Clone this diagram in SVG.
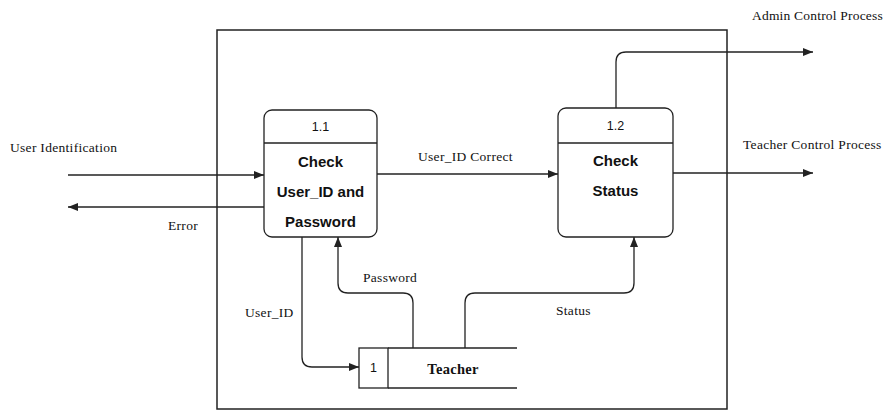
<svg xmlns="http://www.w3.org/2000/svg" width="890" height="411" viewBox="0 0 890 411">
<defs>
<marker id="ah" markerWidth="10" markerHeight="8" refX="10" refY="4" orient="auto" markerUnits="userSpaceOnUse">
<path d="M0,0 L10,4 L0,8 Z" fill="#222"/>
</marker>
<style>
.ln{fill:none;stroke:#222;stroke-width:1.3}
.box{fill:#fff;stroke:#222;stroke-width:1.3}
.lbl{font-family:"Liberation Serif",serif;font-size:13.5px;letter-spacing:0.3px;fill:#111}
.num{font-family:"Liberation Sans",Arial,sans-serif;font-size:12.5px;fill:#111;text-anchor:middle}
.ptxt{font-family:"Liberation Sans",Arial,sans-serif;font-size:15px;font-weight:bold;fill:#111;text-anchor:middle}
</style>
</defs>
<rect width="890" height="411" fill="#fff"/>
<rect id="boundary" x="217" y="30" width="510" height="379" class="ln" style="stroke-width:1.5"/>
<g id="connectors">
<line x1="68" y1="175" x2="264" y2="175" class="ln" marker-end="url(#ah)"/>
<line x1="264" y1="207" x2="68" y2="207" class="ln" marker-end="url(#ah)"/>
<line x1="377" y1="174" x2="558" y2="174" class="ln" marker-end="url(#ah)"/>
<path d="M616,108 V62 Q616,52 626,52 H813" class="ln" marker-end="url(#ah)"/>
<line x1="673" y1="173" x2="813" y2="173" class="ln" marker-end="url(#ah)"/>
<path d="M302,237 V357 Q302,367 312,367 H359" class="ln" marker-end="url(#ah)"/>
<path d="M413,348 V303 Q413,293 403,293 H348 Q338,293 338,283 V237" class="ln" marker-end="url(#ah)"/>
<path d="M465,348 V303 Q465,293 475,293 H624 Q634,293 634,283 V237" class="ln" marker-end="url(#ah)"/>
<text x="10" y="152" class="lbl">User Identification</text>
<text x="168" y="230" class="lbl">Error</text>
<text x="418" y="161" class="lbl">User_ID Correct</text>
<text x="752" y="20" class="lbl" style="letter-spacing:0.2px">Admin Control Process</text>
<text x="743" y="149" class="lbl">Teacher Control Process</text>
<text x="245" y="317" class="lbl">User_ID</text>
<text x="363" y="282" class="lbl">Password</text>
<text x="556" y="315" class="lbl">Status</text>
</g>
<g id="p11">
<rect x="264" y="110" width="113" height="127" rx="8" class="box"/>
<line x1="264" y1="143" x2="377" y2="143" class="ln"/>
<text x="320.5" y="131" class="num">1.1</text>
<text x="320.5" y="167" class="ptxt">Check</text>
<text x="320.5" y="197" class="ptxt">User_ID and</text>
<text x="320.5" y="227" class="ptxt">Password</text>
</g>
<g id="p12">
<rect x="558" y="108" width="115" height="129" rx="8" class="box"/>
<line x1="558" y1="143" x2="673" y2="143" class="ln"/>
<text x="615.5" y="130" class="num">1.2</text>
<text x="615.5" y="166" class="ptxt">Check</text>
<text x="615.5" y="196" class="ptxt">Status</text>
</g>
<g id="ds1">
<rect x="359" y="348" width="29" height="40" class="box"/>
<line x1="388" y1="348" x2="517" y2="348" class="ln"/>
<line x1="388" y1="388" x2="517" y2="388" class="ln"/>
<text x="373.5" y="372" class="num">1</text>
<text x="453" y="374" class="lbl" style="font-size:14.5px;font-weight:bold;text-anchor:middle">Teacher</text>
</g>
</svg>
